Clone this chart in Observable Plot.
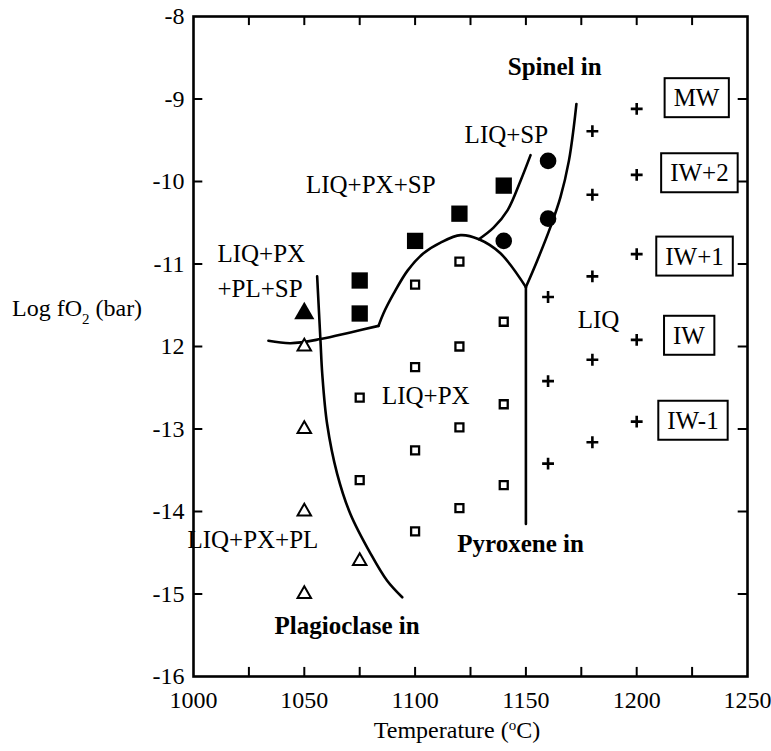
<!DOCTYPE html>
<html><head><meta charset="utf-8">
<script src="https://cdn.jsdelivr.net/npm/d3@7"></script>
<script src="https://cdn.jsdelivr.net/npm/@observablehq/plot@0.6"></script>
<style>body{margin:0;background:#fff} svg text{font-family:"Liberation Serif","DejaVu Serif",serif}</style>
</head><body><div id="chart"></div>
<script>
// ---- axes ----
const xTickLabels = [1000, 1050, 1100, 1150, 1200, 1250];
const xMinorTicks = [1025, 1050, 1075, 1100, 1125, 1150, 1175, 1200, 1225];
const yTickLabels = [-16, -15, -14, -13, -12, -11, -10, -9, -8];
const yMinorTicks = [-15, -14, -13, -12, -11, -10, -9];

// ---- experiments (T in °C, log fO2) ----
const openTriT = [1050, 1050, 1050, 1050, 1075];
const openTriF = [-12.0, -13.0, -14.0, -15.0, -14.6];
const fillTriT = [1050];
const fillTriF = [-11.6];
const fillSqT = [1075, 1075, 1100, 1120, 1140];
const fillSqF = [-11.2, -11.6, -10.72, -10.39, -10.05];
const fillCircT = [1160, 1160, 1140];
const fillCircF = [-9.75, -10.45, -10.72];
const openSqT = [1100, 1120, 1140, 1120, 1100, 1075, 1140, 1120, 1100, 1075, 1140, 1120, 1100];
const openSqF = [-11.25, -10.97, -11.7, -12.0, -12.25, -12.62, -12.7, -12.98, -13.26, -13.62, -13.68, -13.96, -14.24];
const plusT = [1160, 1160, 1160, 1180, 1180, 1180, 1180, 1180, 1200, 1200, 1200, 1200, 1200];
const plusF = [-11.4, -12.42, -13.42, -9.39, -10.16, -11.15, -12.16, -13.16, -9.12, -9.92, -10.88, -11.92, -12.91];

// ---- phase boundaries ----
const spLeftT = [1033.8, 1043.8, 1057.3, 1070.8, 1083.5];
const spLeftF = [-11.93, -11.96, -11.91, -11.83, -11.75];
const spArcT = [1083.5, 1085.7, 1090.3, 1096.6, 1103.8, 1111.5, 1120.5, 1128.8, 1138.5, 1150];
const spArcF = [-11.75, -11.6, -11.36, -11.08, -10.87, -10.74, -10.65, -10.70, -10.87, -11.28];
const pxVertT = [1150, 1150];
const pxVertF = [-11.28, -14.15];
const liqSpT = [1128.8, 1135.4, 1141.7, 1147.6, 1152.1];
const liqSpF = [-10.70, -10.56, -10.35, -9.99, -9.68];
const spinelInT = [1150, 1155.1, 1161.1, 1165.6, 1169.4, 1171.6, 1172.8];
const spinelInF = [-11.28, -10.96, -10.55, -10.19, -9.75, -9.34, -9.06];
const plagInT = [1055.8, 1057.3, 1058.1, 1060.3, 1064.8, 1070.8, 1079.9, 1087.4, 1094.2];
const plagInF = [-11.15, -11.93, -12.33, -12.94, -13.54, -14.03, -14.51, -14.84, -15.04];

// ---- labels ----
const fieldText = ["LIQ+PX+SP", "LIQ+SP", "LIQ", "LIQ+PX", "LIQ+PX+PL"];
const fieldT = [1080, 1141.2, 1182.8, 1104.8, 1026.8];
const fieldF = [-10.04, -9.44, -11.68, -12.6, -14.34];
const fieldText2 = ["LIQ+PX\n+PL+SP"];
const fieldT2 = [1010.8];
const fieldF2 = [-11.05];
const boundText = ["Spinel in", "Plagioclase in", "Pyroxene in"];
const boundT = [1163, 1069.3, 1147.6];
const boundF = [-8.61, -15.39, -14.39];
const bufferText = ["MW", "IW+2", "IW+1", "IW", "IW-1"];
const bufferT = [1227.0, 1228.3, 1226.1, 1223.6, 1225.4];
const bufferF = [-8.99, -9.9, -10.91, -11.87, -12.9];

const pts = (T, F) => T.map((t, i) => ({t, f: F[i]}));
const lab = (S, T, F) => S.map((s, i) => ({s, t: T[i], f: F[i]}));

const lineOpts = {x: "t", y: "f", stroke: "black", strokeWidth: 2.6, curve: "catmull-rom"};
const font = "'Liberation Serif', 'DejaVu Serif', serif";

const chart = Plot.plot({
  width: 771, height: 751,
  marginLeft: 193, marginRight: 24, marginTop: 16, marginBottom: 75,
  x: {domain: [1000, 1250]},
  y: {domain: [-16, -8]},
  style: {fontFamily: font, background: "white", color: "black"},
  marks: [
    Plot.axisX({ticks: xTickLabels, tickSize: 0, tickPadding: 14, fontSize: 24, label: null, tickFormat: d => String(d)}),
    Plot.axisY({ticks: yTickLabels, tickSize: 0, tickPadding: 9, fontSize: 24, label: null,
      tickFormat: d => d === -12 ? "12" : String(d)}),
    Plot.ruleX(xMinorTicks, {x: d => d, y1: -16, y2: -15.89, strokeWidth: 2}),
    Plot.ruleX(xMinorTicks, {x: d => d, y1: -8, y2: -8.11, strokeWidth: 2}),
    Plot.ruleY(yMinorTicks, {y: d => d, x1: 1000, x2: 1004.2, strokeWidth: 2}),
    Plot.ruleY(yMinorTicks, {y: d => d, x1: 1250, x2: 1245.8, strokeWidth: 2}),
    Plot.frame({stroke: "black", strokeWidth: 2.6}),
    // boundaries
    Plot.line(pts(spLeftT, spLeftF), lineOpts),
    Plot.line(pts(spArcT, spArcF), lineOpts),
    Plot.line(pts(pxVertT, pxVertF), {...lineOpts, curve: "linear"}),
    Plot.line(pts(liqSpT, liqSpF), lineOpts),
    Plot.line(pts(spinelInT, spinelInF), lineOpts),
    Plot.line(pts(plagInT, plagInF), lineOpts),
    // experiments
    Plot.dot(pts(openSqT, openSqF), {x: "t", y: "f", symbol: "square", r: 4.5, fill: "white", stroke: "black", strokeWidth: 2.3}),
    Plot.dot(pts(openTriT, openTriF), {x: "t", y: "f", symbol: "triangle", r: 5, fill: "white", stroke: "black", strokeWidth: 2}),
    Plot.dot(pts(fillTriT, fillTriF), {x: "t", y: "f", symbol: "triangle", r: 7.5, fill: "black"}),
    Plot.dot(pts(fillSqT, fillSqF), {x: "t", y: "f", symbol: "square", r: 9.2, fill: "black"}),
    Plot.dot(pts(fillCircT, fillCircF), {x: "t", y: "f", symbol: "circle", r: 8.3, fill: "black"}),
    Plot.dot(pts(plusT, plusF), {x: "t", y: "f", symbol: "plus", r: 3.9, stroke: "black", strokeWidth: 2.6}),
    // labels
    Plot.text(lab(fieldText, fieldT, fieldF), {x: "t", y: "f", text: "s", fontSize: 25, fill: "black"}),
    Plot.text(lab(fieldText2, fieldT2, fieldF2), {x: "t", y: "f", text: "s", fontSize: 25, fill: "black", textAnchor: "start", lineHeight: 1.42}),
    Plot.text(lab(boundText, boundT, boundF), {x: "t", y: "f", text: "s", fontSize: 25, fontWeight: "bold", fill: "black"}),
    Plot.text(lab(bufferText, bufferT, bufferF), {x: "t", y: "f", text: "s", fontSize: 25, fill: "black"})
  ]
});

document.getElementById("chart").appendChild(chart);

// boxes around buffer labels
const svg = d3.select(chart);
svg.selectAll("text").filter(function() { return bufferText.includes(this.textContent); }).each(function() {
  const b = this.getBBox();
  const r = document.createElementNS("http://www.w3.org/2000/svg", "rect");
  r.setAttribute("x", b.x - 9);
  r.setAttribute("y", b.y - 6);
  r.setAttribute("width", b.width + 18);
  r.setAttribute("height", b.height + 12);
  r.setAttribute("fill", "white");
  r.setAttribute("stroke", "black");
  r.setAttribute("stroke-width", 2);
  const tr = this.getAttribute("transform");
  if (tr) r.setAttribute("transform", tr);
  this.parentNode.insertBefore(r, this);
});

// axis titles with sub/superscripts
const sx = chart.scale("x"), sy = chart.scale("y");
const xt = svg.append("text")
  .attr("x", (sx.apply(1000) + sx.apply(1250)) / 2 - 13)
  .attr("y", 738)
  .attr("text-anchor", "middle")
  .attr("font-size", 24).attr("fill", "black");
xt.append("tspan").text("Temperature (");
xt.append("tspan").attr("baseline-shift", "super").attr("font-size", 15).text("o");
xt.append("tspan").text("C)");

const yt = svg.append("text")
  .attr("x", 12)
  .attr("y", sy.apply(-11.6) + 3)
  .attr("text-anchor", "start")
  .attr("font-size", 24).attr("fill", "black");
yt.append("tspan").text("Log fO");
yt.append("tspan").attr("baseline-shift", "sub").attr("font-size", 15).text("2");
yt.append("tspan").text(" (bar)");
</script>
</body></html>
